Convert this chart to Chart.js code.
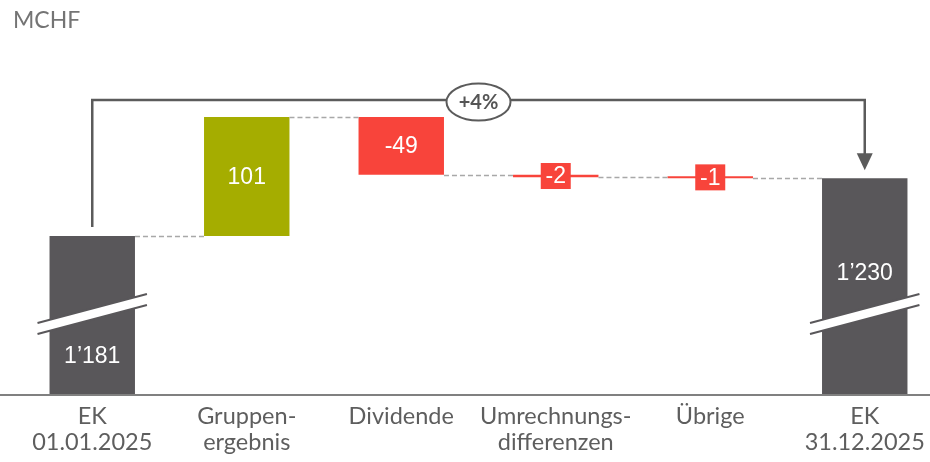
<!DOCTYPE html>
<html><head><meta charset="utf-8">
<script src="https://cdn.jsdelivr.net/npm/chart.js@4.4.1/dist/chart.umd.min.js"></script>
<style>html,body{margin:0;padding:0;overflow:hidden;background:#fff;width:930px;height:462px}</style>
</head><body>
<canvas id="c" width="946" height="462" style="display:block;width:946px;height:462px"></canvas>
<script>
const categories = [["EK","01.01.2025"],["Gruppen-","ergebnis"],"Dividende",["Umrechnungs-","differenzen"],"Übrige",["EK","31.12.2025"]];
const startValue = 1181;
const changes = [101, -49, -2, -1];
const endValue = 1230;
const valueLabels = ["1’181","101","-49","-2","-1","1’230"];
const changeLabel = "+4%";
const unitLabel = "MCHF";
const yMin = 1047, yMax = 1333;

const GRAY = "#59575a", GREEN = "#a5ad00", RED = "#f8443b";

// build waterfall data from the arrays
const barData = [startValue];
const levels = [startValue];
let run = startValue;
for (const d of changes) { barData.push([run, run + d]); run += d; levels.push(run); }
barData.push(endValue);
const colors = [GRAY].concat(changes.map(d => d >= 0 ? GREEN : RED)).concat([GRAY]);

const overlay = {
  id: "overlay",
  afterDatasetsDraw(chart) {
    const ctx = chart.ctx;
    const ys = chart.scales.y;
    const els = chart.getDatasetMeta(0).data;
    const W = chart.width;
    const area = chart.chartArea;
    ctx.save();
    // baseline
    ctx.strokeStyle = "#808080"; ctx.lineWidth = 2;
    ctx.beginPath(); ctx.moveTo(0, area.bottom + 1); ctx.lineTo(W, area.bottom + 1); ctx.stroke();

    // connectors
    ctx.strokeStyle = "#a8a8a8"; ctx.lineWidth = 1.5; ctx.setLineDash([5, 3]);
    for (let i = 0; i < els.length - 1; i++) {
      const a = els[i], b = els[i + 1];
      const y = Math.round(ys.getPixelForValue(levels[i])) + 0.5;
      ctx.beginPath(); ctx.moveTo(a.x + a.width / 2, y); ctx.lineTo(b.x - b.width / 2, y); ctx.stroke();
    }
    ctx.setLineDash([]);

    // break marks on total bars
    [0, els.length - 1].forEach(i => {
      const e = els[i];
      const x0 = e.x - e.width / 2 - 12, x1 = e.x + e.width / 2 + 12;
      const yb = area.bottom;
      const l0 = yb - 71, l1 = yb - 100, g = 11;
      ctx.fillStyle = "#fff";
      ctx.beginPath(); ctx.moveTo(x0, l0); ctx.lineTo(x1, l1); ctx.lineTo(x1, l1 + g); ctx.lineTo(x0, l0 + g); ctx.closePath(); ctx.fill();
      ctx.strokeStyle = GRAY; ctx.lineWidth = 2;
      ctx.beginPath(); ctx.moveTo(x0, l0); ctx.lineTo(x1, l1); ctx.stroke();
      ctx.beginPath(); ctx.moveTo(x0, l0 + g); ctx.lineTo(x1, l1 + g); ctx.stroke();
    });

    // value labels
    ctx.textAlign = "center"; ctx.textBaseline = "middle";
    ctx.font = "23px 'Liberation Sans', Arial, sans-serif";
    els.forEach((e, i) => {
      let top = Math.min(e.y, e.base), bot = Math.max(e.y, e.base);
      let cy;
      if (i === 0) cy = area.bottom - 38;
      else if (i === els.length - 1) cy = e.y + 94;
      else cy = (top + bot) / 2;
      if (i > 0 && i < els.length - 1 && bot - top < 20) {
        ctx.fillStyle = colors[i];
        ctx.fillRect(e.x - 15, cy - 13, 30, 26);
      }
      ctx.fillStyle = "#fff";
      ctx.fillText(valueLabels[i], e.x, cy + 1);
    });

    // bracket with arrow
    const a = els[0], b = els[els.length - 1];
    const peak = Math.max(...levels);
    const yTop = Math.round(ys.getPixelForValue(peak)) - 17;
    const tip = b.y - 8;
    ctx.strokeStyle = "#5b5b5b"; ctx.lineWidth = 2.5;
    ctx.beginPath();
    ctx.moveTo(a.x, a.y - 9); ctx.lineTo(a.x, yTop); ctx.lineTo(b.x, yTop); ctx.lineTo(b.x, tip - 16);
    ctx.stroke();
    ctx.fillStyle = "#5b5b5b";
    ctx.beginPath(); ctx.moveTo(b.x - 8, tip - 17); ctx.lineTo(b.x + 8, tip - 17); ctx.lineTo(b.x, tip); ctx.closePath(); ctx.fill();
    const cx = (a.x + b.x) / 2;
    ctx.fillStyle = "#fff"; ctx.lineWidth = 2;
    ctx.beginPath(); ctx.ellipse(cx, yTop + 2, 32, 18.5, 0, 0, Math.PI * 2); ctx.fill(); ctx.stroke();
    ctx.fillStyle = "#555";
    ctx.font = "bold 20px Lato, sans-serif";
    ctx.fillText(changeLabel, cx, yTop + 3);

    // unit label
    ctx.textAlign = "left"; ctx.textBaseline = "alphabetic";
    ctx.fillStyle = "#747474";
    ctx.font = "23px Lato, sans-serif";
    ctx.fillText(unitLabel, 13, 28);
    ctx.restore();
  }
};

new Chart(document.getElementById("c"), {
  type: "bar",
  data: {
    labels: categories,
    datasets: [{ data: barData, backgroundColor: colors, borderWidth: 0, barPercentage: 0.553, categoryPercentage: 1, minBarLength: 2 }]
  },
  options: {
    responsive: false, animation: false,
    layout: { padding: { left: 15, right: 4, top: 57, bottom: 0 } },
    plugins: { legend: { display: false }, tooltip: { enabled: false } },
    scales: {
      x: {
        afterFit(scale) { scale.height = 68; },
        grid: { display: false, drawTicks: false }, border: { display: false },
        ticks: { color: "#5e5e5e", padding: 9, maxRotation: 0, autoSkip: false, font: { family: "Lato, sans-serif", size: 23.5, lineHeight: "26px" } }
      },
      y: { display: false, min: yMin, max: yMax }
    }
  },
  plugins: [overlay]
});
</script>
</body></html>
